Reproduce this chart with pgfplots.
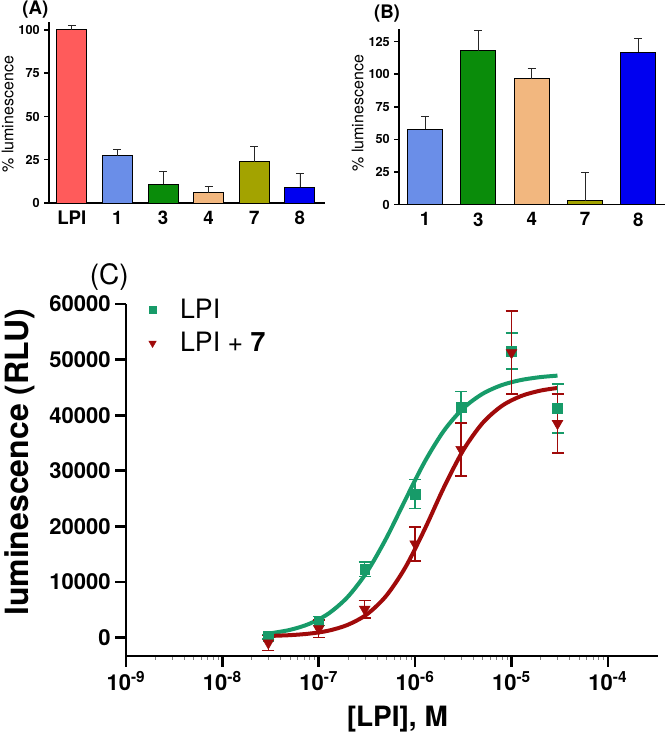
\documentclass[border=0pt]{standalone}
\usepackage{pgfplots}
\pgfplotsset{compat=1.18}
\usepackage{fontspec}
\setmainfont{TeX Gyre Heros}

\definecolor{cLPI}{HTML}{FF5B5B}
\definecolor{cOne}{HTML}{6A8EE8}
\definecolor{cThree}{HTML}{0A8C0A}
\definecolor{cFour}{HTML}{F2B77F}
\definecolor{cSeven}{HTML}{A3A300}
\definecolor{cEight}{HTML}{0000F0}
\definecolor{cG}{HTML}{179B69}
\definecolor{cR}{HTML}{A00A0A}

\pgfplotsset{
  prism/.style={
    scale only axis,
    axis x line=bottom, axis y line=left,
    axis line style={-, line width=1.1pt},
    tick align=outside,
    major tick style={line width=1.1pt, black},
    minor tick num=0,
    /pgf/number format/assume math mode=true,
    /pgf/number format/1000 sep={},
    scaled y ticks=false,
    clip=false,
  },
  barp/.style={
    prism,
    ybar, bar shift=0pt,
    ymin=0,
    major x tick style={draw=none},
    x tick label style={font=\bfseries\fontsize{14}{16}\selectfont, yshift=1pt},
    y tick label style={font=\bfseries\fontsize{9.5}{11}\selectfont},
    ylabel style={font=\fontsize{12}{14}\selectfont},
    major tick length=3.5pt,
    error bars/y dir=plus, error bars/y explicit,
    error bars/error bar style={line width=0.6pt, black!85},
    error bars/error mark options={rotate=90, mark size=3pt, line width=0.6pt, black!85},
  },
  bb/.style={draw=black, line width=0.7pt, fill=#1},
}

\begin{document}
\begin{tikzpicture}
\useasboundingbox (0pt,0pt) rectangle (499.5pt,-555.75pt);

% ---------------- Panel A ----------------
\begin{axis}[barp,
  at={(36.75pt,-152.25pt)}, anchor=south west,
  width=207pt, height=135.75pt,
  xmin=-0.5, xmax=5.55, ymax=104.6,
  xtick={0,1,2,3,4,5}, xticklabels={LPI,1,3,4,7,8},
  ytick={0,25,50,75,100},
  bar width=22.5pt,
  ylabel={\% luminescence},
  ylabel style={at={(axis description cs:-0.15,0.49)}, anchor=center},
]
\addplot[bb=cLPI]   coordinates {(0,100) +- (0,2.4)};
\addplot[bb=cOne]   coordinates {(1,27.3) +- (0,3.9)};
\addplot[bb=cThree] coordinates {(2,10.8) +- (0,7.3)};
\addplot[bb=cFour]  coordinates {(3,6.0) +- (0,3.4)};
\addplot[bb=cSeven] coordinates {(4,23.9) +- (0,8.6)};
\addplot[bb=cEight] coordinates {(5,9.1) +- (0,8.1)};
\end{axis}
\node[font=\bfseries\fontsize{14}{16}\selectfont] at (26.5pt,-7pt) {(A)};

% ---------------- Panel B ----------------
\begin{axis}[barp,
  at={(299.25pt,-153.5pt)}, anchor=south west,
  width=199.5pt, height=131.8pt,
  xmin=-0.49, xmax=4.5, ymax=134.7,
  xtick={0,1,2,3,4}, xticklabels={1,3,4,7,8},
  ytick={0,25,50,75,100,125},
  bar width=26.25pt,
  ylabel={\% luminescence},
  ylabel style={at={(axis description cs:-0.155,0.52)}, anchor=center},
]
\addplot[bb=cOne]   coordinates {(0,57.8) +- (0,10.2)};
\addplot[bb=cThree] coordinates {(1,117.9) +- (0,15.5)};
\addplot[bb=cFour]  coordinates {(2,96.4) +- (0,8.2)};
\addplot[bb=cSeven] coordinates {(3,3.1) +- (0,21.4)};
\addplot[bb=cEight] coordinates {(4,116.9) +- (0,10.4)};
\end{axis}
\node[font=\bfseries\fontsize{14}{16}\selectfont] at (290.25pt,-10pt) {(B)};

% ---------------- Panel C ----------------
\begin{axis}[prism,
  at={(94.5pt,-492pt)}, anchor=south west,
  width=399pt, height=264pt,
  xmode=log, xmin=1e-9, xmax=3.31e-4,
  ymin=-3300, ymax=60000,
  axis line style={-, line width=2pt},
  major tick style={line width=2pt, black},
  major tick length=8pt,
  xtick={1e-9,1e-8,1e-7,1e-6,1e-5,1e-4},
  xticklabels={10\textsuperscript{-9},10\textsuperscript{-8},10\textsuperscript{-7},10\textsuperscript{-6},10\textsuperscript{-5},10\textsuperscript{-4}},
  ytick={0,10000,20000,30000,40000,50000,60000},
  tick label style={font=\bfseries\fontsize{16.5}{18}\selectfont},
  xlabel={[LPI], M},
  ylabel={luminescence (RLU)},
  xlabel style={font=\bfseries\fontsize{21}{24}\selectfont, at={(axis description cs:0.51,-0.18)}, anchor=center},
  ylabel style={font=\bfseries\fontsize{24}{28}\selectfont, at={(axis description cs:-0.199,0.55)}, anchor=center},
  legend style={draw=none, fill=none, at={(axis description cs:0.02,1.03)}, anchor=north west,
    font=\fontsize{20}{24}\selectfont, row sep=5pt},
  legend cell align=left,
  error bars/y dir=both, error bars/y explicit,
]
% fitted curves
\addplot[cG, line width=3pt, smooth, no marks, forget plot] coordinates {
(3e-8,724) (5.012e-8,1393) (7.943e-8,2474) (1.259e-7,4318) (1.995e-7,7313)
(3.162e-7,11816) (5.012e-7,17857) (7.943e-7,24843) (1.259e-6,31646) (1.995e-6,37243)
(3.162e-6,41254) (5.012e-6,43852) (7.943e-6,45424) (1.259e-5,46337) (1.995e-5,46853) (3e-5,47116)};
\addplot[cR, line width=3pt, smooth, no marks, forget plot] coordinates {
(3e-8,300) (5.012e-8,450) (7.943e-8,720) (1.259e-7,1250) (1.995e-7,2300)
(3.162e-7,4200) (5.012e-7,7521) (7.943e-7,12674) (1.259e-6,19528) (1.995e-6,27067)
(3.162e-6,33729) (5.012e-6,38592) (7.943e-6,41674) (1.259e-5,43453) (1.995e-5,44425) (3e-5,44898)};
% data
\addplot[cG, only marks, mark=square*, mark size=3.6pt,
  error bars/error bar style={line width=1.1pt, cG},
  error bars/error mark options={rotate=90, mark size=4.5pt, line width=1.1pt, cG},
  legend image code/.code={\path (0cm,0cm) (0.95cm,0cm); \draw[mark size=2.6pt] plot coordinates {(0.3cm,0cm)};}]
  coordinates {
  (3e-8,200) +- (0,400)
  (1e-7,3000) +- (0,800)
  (3e-7,12300) +- (0,1300)
  (1e-6,25800) +- (0,2600)
  (3e-6,41450) +- (0,2850)
  (1e-5,51550) +- (0,3250)
  (3e-5,41200) +- (0,4400)};
\addlegendentry{LPI}
\addplot[cR, only marks, mark=triangle*, mark options={rotate=180}, mark size=4.6pt,
  error bars/error bar style={line width=1.1pt, cR},
  error bars/error mark options={rotate=90, mark size=4.5pt, line width=1.1pt, cR},
  legend image code/.code={\path (0cm,0cm) (0.95cm,0cm); \draw[mark size=3.2pt] plot coordinates {(0.3cm,0cm)};}]
  coordinates {
  (3e-8,-950) +- (0,1350)
  (1e-7,1600) +- (0,1600)
  (3e-7,5100) +- (0,1600)
  (1e-6,16850) +- (0,3050)
  (3e-6,33850) +- (0,4750)
  (1e-5,51250) +- (0,7450)
  (3e-5,38500) +- (0,5300)};
\addlegendentry{LPI + \textbf{7}}
\end{axis}
\node[font=\fontsize{21}{25}\selectfont] at (82pt,-208pt) {(C)};
\end{tikzpicture}
\end{document}
